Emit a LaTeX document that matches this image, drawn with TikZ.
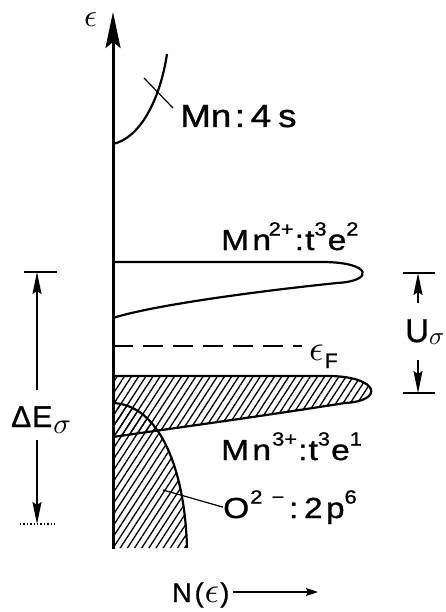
\documentclass[tikz,border=0pt]{standalone}
\usepackage{graphicx}
\usepackage{fontspec}
\setmainfont{Liberation Sans}[FakeBold=1]
\usetikzlibrary{arrows.meta,patterns.meta}
\newcommand{\sps}[1]{\raisebox{0.5em}{\fontsize{19}{19}\selectfont #1}}
\newcommand{\gsym}[2]{\scalebox{#1}{\fontsize{10}{12}\selectfont$#2$}}
\tikzset{
  lab/.style={inner sep=0pt, anchor=base west, font=\fontsize{29}{29}\selectfont, xscale=1.15},
  plain/.style={inner sep=0pt, anchor=base west},
  band/.style={line width=2.2pt},
  hatch/.style={pattern={Lines[angle=57,distance=6pt,line width=1.3pt]}},
  dim/.style={line width=1.6pt},
  dimarrow/.style={line width=1.6pt,-{Stealth[length=22pt,width=9pt,inset=3pt]}},
}
\begin{document}
\begin{tikzpicture}[x=1pt,y=-1pt]
\useasboundingbox (0,0) rectangle (446,612);
% coordinates
\coordinate (axbot) at (113,549);
\coordinate (axtop) at (113,12);
% hatched regions
\fill[hatch] (113,403) .. controls (160,405) and (185,470) .. (187,548) -- (113,548) -- cycle;
\fill[hatch] (113,376) -- (330,376) .. controls (380,377) and (384,401) .. (345,403) .. controls (250,418) and (160,430) .. (113,437) -- cycle;
% O 2p band outline
\draw[band] (113,403) .. controls (160,405) and (185,470) .. (187,548);
% Mn3+ band outline
\draw[band] (113,376) -- (330,376) .. controls (380,377) and (384,401) .. (345,403) .. controls (250,418) and (160,430) .. (113,437);
% Mn2+ band outline
\draw[band] (113,262) -- (322,262) .. controls (372,262) and (375,281) .. (337,283) .. controls (250,292) and (150,306) .. (113,318);
% Mn 4s band
\draw[band] (113,144) .. controls (140,138) and (160,100) .. (167,54);
% axis
\draw[line width=3pt,-{Stealth[length=36pt,width=15pt,inset=6pt]}] (axbot) -- (axtop);
\node[plain] (eps) at (84,27) {\gsym{3.2}{\epsilon}};
% Fermi level
\coordinate (fl) at (113,346);
\coordinate (fr) at (302,346);
\draw[line width=1.6pt,dash pattern=on 20pt off 10pt] (fl) -- (fr);
\node[plain] (ef) at (309,360) {\gsym{3.6}{\epsilon}\kern1pt\raisebox{-8pt}{\fontsize{21}{21}\selectfont F}};
% labels
\node[lab,font=\fontsize{32}{32}\selectfont,xscale=1.0] (l4s) at (180,127) {Mn\kern3pt:\kern5pt4\kern6pt s};
\coordinate (t1) at (144,78);
\coordinate (t2) at (173,108);
\draw[line width=1.2pt] (t1) -- (t2);
\node[lab] (l2) at (221,250) {M\kern3pt n\kern-2pt\sps{2+}\kern1pt:\kern1pt t\sps{3}\kern1pt e\sps{2}};
\node[lab] (l3) at (221,460) {M\kern3pt n\kern1pt\sps{3+}\kern1pt:\kern1pt t\sps{3}\kern1pt e\sps{1}};
\node[lab] (lo) at (223,518) {O\kern1pt\sps{2\kern8pt−}\kern4pt:\kern5pt2\kern3pt p\sps{6}};
\coordinate (o1) at (163,490);
\draw[line width=1.2pt] (o1) -- (lo.west);
% Delta E
\coordinate (dtop) at (37,272);
\coordinate (dbot) at (37,524);
\draw[dim] (24,272) -- (57,272);
\draw[line width=1.4pt,dotted] (20,524) -- (57,524);
\node[plain] (de) at (11,427) {{\fontsize{30}{30}\selectfont Δ\kern1pt E}\kern1pt\raisebox{-6pt}{\gsym{2.9}{\sigma}}};
\draw[dimarrow] (37,390) -- (dtop);
\draw[dimarrow] (37,440) -- (dbot);
% U sigma
\coordinate (utop) at (418,273);
\coordinate (ubot) at (418,393);
\draw[dim] (403,273) -- (435,273);
\draw[dim] (403,393) -- (435,393);
\node[plain] (us) at (405,342) {{\fontsize{33}{33}\selectfont U}\raisebox{-2pt}{\gsym{2.5}{\sigma}}};
\draw[dimarrow] (418,303) -- (utop);
\draw[dimarrow] (418,360) -- (ubot);
% N(eps)
\node[plain] (ne) at (172,602) {{\fontsize{27}{27}\selectfont N\kern3pt(}\kern1pt\gsym{3.6}{\epsilon}\kern1pt{\fontsize{27}{27}\selectfont)}};
\coordinate (na) at (318,592);
\draw[line width=1.4pt,-{Stealth[length=12pt,width=8pt,inset=2pt]}] (ne.east |- na) ++(4,0) -- (na);
\end{tikzpicture}
\end{document}
